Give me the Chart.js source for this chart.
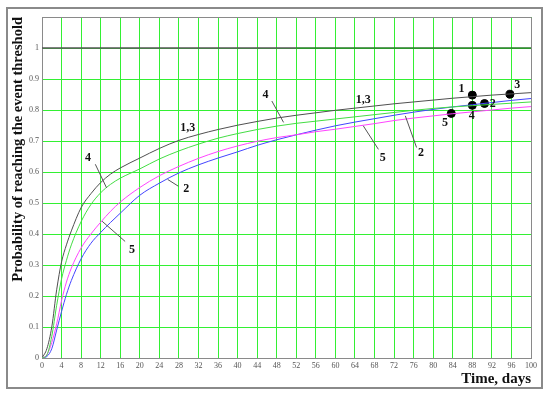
<!DOCTYPE html>
<html>
<head>
<meta charset="utf-8">
<script src="https://cdn.jsdelivr.net/npm/chart.js@4.4.0/dist/chart.umd.min.js"></script>
<style>
  html, body { margin: 0; padding: 0; background: #fff; }
  #wrap { width: 550px; height: 398px; }
</style>
</head>
<body>
<div id="wrap"><canvas id="chart" width="550" height="398"></canvas></div>
<script>
// time axis, days
const days = [0, 1, 2, 3, 4, 5, 6, 8, 10, 12, 14, 16, 20, 24, 28, 32, 36, 40, 44, 48, 52, 56, 60, 64, 68, 72, 76, 80, 84, 88, 92, 96, 100];

// curves 1,3 (black), 4 (green), 5 (magenta), 2 (blue)
const curve13 = [0, 0.03, 0.1, 0.22, 0.31, 0.365, 0.41, 0.485, 0.53, 0.566, 0.593, 0.613, 0.645, 0.676, 0.702, 0.721, 0.737, 0.751, 0.763, 0.774, 0.783, 0.791, 0.799, 0.806, 0.813, 0.82, 0.826, 0.832, 0.838, 0.843, 0.848, 0.852, 0.856];
const curve4 = [0, 0.01, 0.07, 0.17, 0.255, 0.315, 0.365, 0.44, 0.495, 0.533, 0.56, 0.58, 0.61, 0.642, 0.668, 0.69, 0.709, 0.724, 0.737, 0.748, 0.757, 0.764, 0.771, 0.778, 0.785, 0.792, 0.799, 0.805, 0.81, 0.814, 0.818, 0.822, 0.826];
const curve5 = [0, 0.01, 0.05, 0.11, 0.185, 0.245, 0.29, 0.355, 0.4, 0.438, 0.473, 0.503, 0.55, 0.588, 0.618, 0.644, 0.666, 0.684, 0.699, 0.711, 0.72, 0.73, 0.738, 0.747, 0.756, 0.766, 0.774, 0.781, 0.788, 0.794, 0.8, 0.806, 0.811];
const curve2 = [0, 0.005, 0.03, 0.09, 0.15, 0.205, 0.25, 0.32, 0.37, 0.405, 0.437, 0.467, 0.525, 0.564, 0.597, 0.623, 0.645, 0.665, 0.686, 0.704, 0.72, 0.735, 0.749, 0.761, 0.772, 0.783, 0.793, 0.802, 0.81, 0.817, 0.824, 0.831, 0.837];

// threshold line at 1
const limitLeftX = [0, 52];
const limitRightX = [52, 100];
const limitY = [1, 1];

// marked points
const pointX = [88, 95.7, 88, 90.5, 83.7];
const pointY = [0.848, 0.851, 0.815, 0.821, 0.789];

// curve labels (data units) and their leader lines
const labelText = ['4', '1,3', '2', '5', '4', '1,3', '5', '2', '1', '3', '2', '4', '5'];
const labelX = [9.4, 29.8, 29.5, 18.4, 45.7, 65.7, 69.7, 77.5, 85.8, 97.2, 92.2, 87.9, 82.4];
const labelY = [0.644, 0.743, 0.544, 0.35, 0.848, 0.833, 0.646, 0.662, 0.867, 0.88, 0.821, 0.781, 0.757];
const leaders = [
  [10.9, 0.625, 13.2, 0.549],
  [25.7, 0.576, 27.9, 0.554],
  [12.3, 0.441, 17.0, 0.376],
  [47.0, 0.829, 49.4, 0.76],
  [65.7, 0.749, 68.8, 0.673],
  [74.3, 0.781, 76.6, 0.679]
];

const xTicks = { min: 0, max: 100, step: 4 };
const yTicks = { min: 0, max: 1.1, step: 0.1 };

const xy = (xs, ys) => xs.map((x, i) => ({ x: x, y: ys[i] }));

const serif = '"Liberation Serif", "Times New Roman", serif';

const overlay = {
  id: 'overlay',
  beforeDraw(chart) {
    const ctx = chart.ctx;
    ctx.save();
    ctx.fillStyle = '#fff';
    ctx.fillRect(0, 0, chart.width, chart.height);
    ctx.strokeStyle = '#8a8a8a';
    ctx.lineWidth = 2;
    ctx.strokeRect(7, 8, 535, 380);
    ctx.restore();
  },
  afterDatasetsDraw(chart) {
    const ctx = chart.ctx;
    const a = chart.chartArea;
    const xs = chart.scales.x, ys = chart.scales.y;
    ctx.save();
    ctx.strokeStyle = '#8a8a8a';
    ctx.lineWidth = 1;
    ctx.beginPath();
    ctx.moveTo(a.left, a.top + 0.5);
    ctx.lineTo(a.right + 0.5, a.top + 0.5);
    ctx.lineTo(a.right + 0.5, a.bottom);
    ctx.stroke();

    ctx.strokeStyle = '#555';
    leaders.forEach(l => {
      ctx.beginPath();
      ctx.moveTo(xs.getPixelForValue(l[0]), ys.getPixelForValue(l[1]));
      ctx.lineTo(xs.getPixelForValue(l[2]), ys.getPixelForValue(l[3]));
      ctx.stroke();
    });

    ctx.fillStyle = '#111';
    ctx.font = 'bold 12px ' + serif;
    ctx.textAlign = 'center';
    ctx.textBaseline = 'middle';
    labelText.forEach((t, i) => {
      ctx.fillText(t, xs.getPixelForValue(labelX[i]), ys.getPixelForValue(labelY[i]));
    });
    ctx.restore();
  }
};

new Chart(document.getElementById('chart'), {
  type: 'line',
  data: {
    datasets: [
      { data: xy(limitLeftX, limitY), borderColor: '#555', borderWidth: 1.5 },
      { data: xy(limitRightX, limitY), borderColor: '#2a7a2a', borderWidth: 1.5 },
      { data: xy(days, curve4), borderColor: '#44dd44', borderWidth: 1 },
      { data: xy(days, curve5), borderColor: '#ff44ff', borderWidth: 1 },
      { data: xy(days, curve2), borderColor: '#4444ff', borderWidth: 1 },
      { data: xy(days, curve13), borderColor: '#505050', borderWidth: 1 },
      {
        data: xy(pointX, pointY), showLine: false,
        pointRadius: 4, pointBackgroundColor: '#000', pointBorderColor: '#000'
      }
    ]
  },
  options: {
    responsive: false,
    animation: false,
    events: [],
    layout: { padding: { left: 0, right: 19, top: 17, bottom: 0 } },
    elements: {
      point: { radius: 0 },
      line: { cubicInterpolationMode: 'monotone', fill: false }
    },
    plugins: { legend: { display: false }, tooltip: { enabled: false } },
    scales: {
      x: {
        type: 'linear',
        min: xTicks.min, max: xTicks.max,
        afterFit: s => { s.height = 40; },
        grid: { color: '#33f033', lineWidth: 1, drawTicks: false },
        border: { color: '#8a8a8a' },
        ticks: {
          stepSize: xTicks.step, autoSkip: false, maxRotation: 0, padding: 3,
          color: '#555', font: { family: serif, size: 8 }
        },
        title: {
          display: true, text: 'Time, days', align: 'end', color: '#111',
          font: { family: serif, size: 15, weight: 'bold' },
          padding: { top: 0, bottom: 10 }
        }
      },
      y: {
        min: yTicks.min, max: yTicks.max,
        afterFit: s => { s.width = 42; },
        grid: { color: '#33f033', lineWidth: 1, drawTicks: false },
        border: { color: '#8a8a8a' },
        ticks: {
          stepSize: yTicks.step, padding: 3, color: '#555',
          font: { family: serif, size: 8 },
          callback: v => (v > 1.05 ? '' : String(Math.round(v * 10) / 10))
        },
        title: {
          display: true, text: 'Probability of reaching the event threshold', color: '#111',
          align: 'end',
          font: { family: serif, size: 14.5, weight: 'bold' },
          padding: { top: 10, bottom: 0 }
        }
      }
    }
  },
  plugins: [overlay]
});
</script>
</body>
</html>
